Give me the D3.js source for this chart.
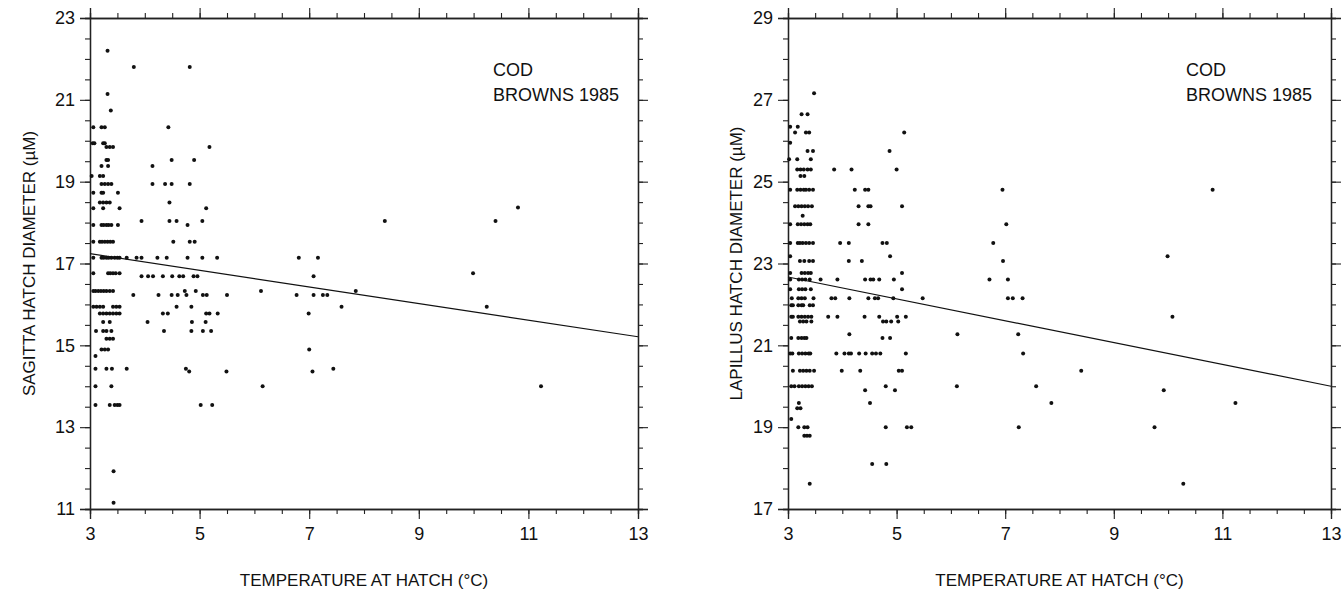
<!DOCTYPE html>
<html>
<head>
<meta charset="utf-8">
<script src="https://cdn.jsdelivr.net/npm/d3@7"></script>
<style>
  html, body { margin: 0; padding: 0; background: #fff; }
  svg text { font-family: "Liberation Sans", Arial, Helvetica, sans-serif; fill: #111; }
</style>
</head>
<body>
<div id="chart"></div>
<script>
// Sagitta rows: [diameter, [temperatures...]]
var sagittaRows = [
  [22.2, [3.32]],
  [21.8, [3.8, 4.82]],
  [21.14, [3.32]],
  [20.74, [3.38]],
  [20.33, [3.06, 3.21, 3.27, 4.43]],
  [19.94, [3.05, 3.08, 3.24, 3.27]],
  [19.85, [3.3, 3.36, 3.42, 5.18]],
  [19.53, [3.3, 3.33, 4.49, 4.9]],
  [19.38, [3.21, 3.33, 4.14]],
  [19.14, [3.03, 3.18, 3.24]],
  [18.94, [3.21, 3.27, 3.33, 3.39, 4.14, 4.37, 4.49, 4.82]],
  [18.73, [3.06, 3.21, 3.24, 3.51]],
  [18.49, [3.18, 3.24, 3.3, 3.36, 4.45]],
  [18.37, [10.81]],
  [18.35, [3.06, 3.24, 3.54, 5.12]],
  [18.04, [3.94, 4.45, 4.58, 5.05, 8.38, 10.4]],
  [17.94, [3.06, 3.21, 3.25, 3.3, 3.34, 3.39, 3.51, 4.78]],
  [17.53, [3.06, 3.18, 3.22, 3.27, 3.32, 3.37, 3.42, 4.52, 4.82, 4.91]],
  [17.14, [3.06, 3.21, 3.25, 3.3, 3.34, 3.39, 3.45, 3.5, 3.54, 3.67, 3.85, 3.94, 4.23, 4.4, 4.78, 5.05, 5.32, 6.81, 7.16]],
  [16.76, [3.06, 3.33, 3.37, 3.42, 3.47, 3.54, 9.99]],
  [16.69, [3.94, 4.06, 4.15, 4.33, 4.5, 4.63, 4.7, 4.89, 4.96, 7.08]],
  [16.33, [3.06, 3.1, 3.15, 3.2, 3.25, 3.3, 3.36, 3.42, 4.73, 4.93, 6.12, 7.85]],
  [16.23, [3.79, 4.25, 4.49, 4.6, 4.76, 5.06, 5.13, 5.5, 6.77, 7.08, 7.25, 7.33]],
  [15.94, [3.06, 3.12, 3.18, 3.24, 3.42, 3.48, 3.54, 4.58, 4.85, 7.59, 10.24]],
  [15.78, [3.18, 3.24, 3.3, 3.36, 3.42, 3.48, 3.54, 4.33, 4.42, 5.12, 5.18, 5.33, 6.99]],
  [15.57, [3.24, 3.36, 4.05, 4.86, 5.11]],
  [15.35, [3.11, 3.24, 3.3, 3.39, 4.35, 4.85, 5.06, 5.21]],
  [15.16, [3.3, 3.36, 3.42]],
  [14.9, [3.21, 3.27, 3.33, 7.0]],
  [14.74, [3.1]],
  [14.43, [3.1, 3.3, 3.4, 3.67, 4.75, 7.44]],
  [14.36, [4.81, 5.49, 7.06]],
  [14.0, [3.1, 3.39, 6.15, 11.23]],
  [13.54, [3.1, 3.36, 3.45, 3.5, 3.54, 5.02, 5.23]],
  [11.92, [3.43]],
  [11.15, [3.43]]
]

// Lapillus rows: [diameter, [temperatures...]]
var lapillusRows = [
  [27.16, [3.48]],
  [26.65, [3.25, 3.36]],
  [26.34, [3.04, 3.18]],
  [26.2, [3.13, 3.33, 3.39, 5.14]],
  [25.95, [3.04]],
  [25.75, [3.36, 3.46, 4.87]],
  [25.55, [3.02, 3.17, 3.42]],
  [25.3, [3.17, 3.23, 3.29, 3.36, 3.42, 3.85, 4.17, 5.0]],
  [25.14, [3.23, 3.3]],
  [24.8, [3.04, 3.17, 3.23, 3.29, 3.33, 3.39, 3.46, 4.23, 4.42, 4.48, 6.95, 10.82]],
  [24.4, [3.13, 3.19, 3.25, 3.31, 3.37, 3.44, 4.3, 4.48, 4.52, 5.1]],
  [24.17, [3.27]],
  [23.96, [3.04, 3.18, 3.24, 3.3, 3.36, 3.41, 4.3, 4.48, 7.02]],
  [23.5, [3.04, 3.18, 3.22, 3.27, 3.33, 3.39, 3.46, 3.96, 4.12, 4.74, 4.82, 6.78]],
  [23.18, [3.04, 4.88, 9.99]],
  [23.06, [3.22, 3.3, 3.39, 3.46, 4.12, 4.36, 6.96]],
  [22.77, [3.04, 3.25, 3.31, 3.37, 3.42, 5.1]],
  [22.61, [3.04, 3.2, 3.26, 3.32, 3.4, 3.6, 3.91, 4.42, 4.52, 4.57, 4.68, 4.95, 6.71, 7.05]],
  [22.37, [3.04, 3.2, 3.26, 3.32, 3.42, 5.1]],
  [22.15, [3.07, 3.19, 3.25, 3.31, 3.47, 3.8, 3.87, 4.13, 4.48, 4.6, 4.66, 4.94, 5.48, 7.05, 7.14, 7.32]],
  [21.98, [3.06, 3.09, 3.19, 3.25, 3.28, 3.4, 3.46]],
  [21.7, [3.06, 3.09, 3.19, 3.25, 3.31, 3.37, 3.43, 3.74, 3.91, 4.41, 4.68, 5.01, 5.17, 10.08]],
  [21.58, [3.22, 3.28, 3.34, 3.43, 4.75, 4.81, 4.9, 5.03]],
  [21.27, [4.13, 6.12, 7.24]],
  [21.18, [3.06, 3.19, 3.25, 3.3, 3.34, 4.74, 4.88]],
  [20.8, [3.04, 3.08, 3.2, 3.26, 3.32, 3.38, 3.41, 3.89, 4.04, 4.12, 4.16, 4.31, 4.43, 4.55, 4.62, 4.7, 5.17, 7.33]],
  [20.38, [3.09, 3.22, 3.28, 3.34, 3.4, 3.48, 3.99, 4.33, 5.04, 5.1, 8.4]],
  [20.0, [3.06, 3.12, 3.2, 3.26, 3.32, 3.38, 3.44, 4.8, 6.11, 7.57]],
  [19.9, [4.42, 4.97, 9.92]],
  [19.59, [3.2, 4.51, 7.85, 11.24]],
  [19.46, [3.17, 3.23]],
  [19.2, [3.06]],
  [19.0, [3.19, 3.3, 3.36, 4.8, 5.19, 5.27, 7.25, 9.75]],
  [18.79, [3.3, 3.35, 3.4]],
  [18.1, [4.55, 4.81]],
  [17.62, [3.4, 10.28]]
]

// Fitted lines, end points at 3 and 13 degrees
var sagittaFit = [[3, 17.24], [13, 15.21]]
var lapillusFit = [[3, 22.67], [13, 20.0]]

var xTicks = [3, 5, 7, 9, 11, 13]
var sagittaTicks = [11, 13, 15, 17, 19, 21, 23]
var lapillusTicks = [17, 19, 21, 23, 25, 27, 29]

var width = 1344
var height = 589

var svg = d3.select('#chart').append('svg')
  .attr('width', width)
  .attr('height', height)

function drawPanel(opts) {
  var x = d3.scaleLinear().domain([3, 13]).range([opts.left, opts.right])
  var y = d3.scaleLinear().domain(opts.yDomain).range([509, 18])

  var g = svg.append('g')

  var xMinor = d3.range(3, 13.01, 0.5)
  var yMinor = d3.range(opts.yDomain[0], opts.yDomain[1] + 0.01, 0.5)

  // Axes on all four sides, ticks pointing out
  var bottom = d3.axisBottom(x).tickValues(xMinor).tickSize(5).tickFormat('')
  var top = d3.axisTop(x).tickValues(xMinor).tickSize(5).tickFormat('')
  var left = d3.axisLeft(y).tickValues(yMinor).tickSize(5).tickFormat('')
  var right = d3.axisRight(y).tickValues(yMinor).tickSize(5).tickFormat('')

  g.append('g').attr('transform', 'translate(0,' + y.range()[0] + ')').call(bottom)
  g.append('g').attr('transform', 'translate(0,' + y.range()[1] + ')').call(top)
  g.append('g').attr('transform', 'translate(' + opts.left + ',0)').call(left)
  g.append('g').attr('transform', 'translate(' + opts.right + ',0)').call(right)

  g.append('g').attr('transform', 'translate(0,' + y.range()[0] + ')')
    .call(d3.axisBottom(x).tickValues(xTicks).tickSize(10).tickPadding(8).tickFormat(d3.format('d')))
  g.append('g').attr('transform', 'translate(0,' + y.range()[1] + ')')
    .call(d3.axisTop(x).tickValues(xTicks).tickSize(10).tickFormat(''))
  g.append('g').attr('transform', 'translate(' + opts.left + ',0)')
    .call(d3.axisLeft(y).tickValues(opts.yTicks).tickSize(10).tickPadding(5).tickFormat(d3.format('d')))
  g.append('g').attr('transform', 'translate(' + opts.right + ',0)')
    .call(d3.axisRight(y).tickValues(opts.yTicks).tickSize(10).tickFormat(''))

  g.selectAll('.domain').attr('stroke', '#222').attr('stroke-width', 1.3)
  g.selectAll('.tick line').attr('stroke', '#222').attr('stroke-width', 1.1)
  g.selectAll('.tick text')
    .attr('font-family', '"Liberation Sans", Arial, sans-serif')
    .attr('font-size', 18)
    .attr('fill', '#111')

  var points = []
  opts.rows.forEach(function (r) {
    r[1].forEach(function (t) { points.push([t, r[0]]) })
  })

  g.selectAll('circle.pt')
    .data(points)
    .enter().append('circle')
    .attr('class', 'pt')
    .attr('cx', function (d) { return x(d[0]) })
    .attr('cy', function (d) { return y(d[1]) })
    .attr('r', 2)
    .attr('fill', '#111')

  g.append('path')
    .datum(opts.fit)
    .attr('d', d3.line().x(function (d) { return x(d[0]) }).y(function (d) { return y(d[1]) }))
    .attr('fill', 'none')
    .attr('stroke', '#111')
    .attr('stroke-width', 1.2)

  g.append('text')
    .attr('x', opts.right - 145)
    .attr('y', 76)
    .attr('font-size', 18)
    .text('COD')
  g.append('text')
    .attr('x', opts.right - 145)
    .attr('y', 101)
    .attr('font-size', 18)
    .text('BROWNS 1985')

  g.append('text')
    .attr('x', (opts.left + opts.right) / 2)
    .attr('y', 586)
    .attr('text-anchor', 'middle')
    .attr('font-size', 17)
    .text('TEMPERATURE AT HATCH (°C)')

  g.append('text')
    .attr('transform', 'translate(' + opts.titleX + ',' + ((y.range()[0] + y.range()[1]) / 2) + ') rotate(-90)')
    .attr('text-anchor', 'middle')
    .attr('dominant-baseline', 'central')
    .attr('font-size', 17)
    .text(opts.title)
}

drawPanel({
  left: 90, right: 638,
  yDomain: [11, 23], yTicks: sagittaTicks,
  rows: sagittaRows, fit: sagittaFit,
  titleX: 29, title: 'SAGITTA HATCH DIAMETER (µM)'
})

drawPanel({
  left: 788, right: 1331,
  yDomain: [17, 29], yTicks: lapillusTicks,
  rows: lapillusRows, fit: lapillusFit,
  titleX: 736, title: 'LAPILLUS HATCH DIAMETER (µM)'
})
</script>
</body>
</html>
